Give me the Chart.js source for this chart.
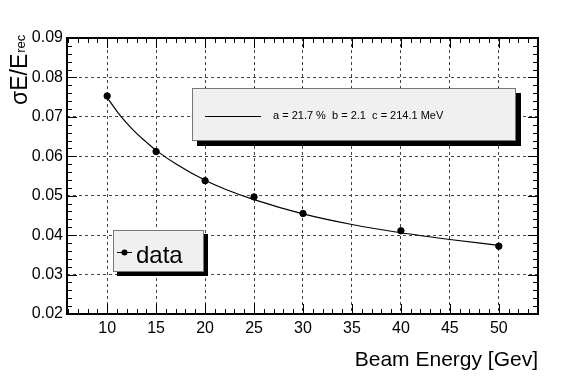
<!DOCTYPE html>
<html>
<head>
<meta charset="utf-8">
<script src="https://cdn.jsdelivr.net/npm/chart.js@4.4.1/dist/chart.umd.min.js"></script>
<style>
  html, body { margin: 0; padding: 0; background: #fff; }
  #wrap { width: 567px; height: 384px; position: relative; }
</style>
</head>
<body>
<div id="wrap"><canvas id="chart"></canvas></div>
<script>
// measured points (beam energy in GeV, sigmaE/E)
const energies = [10, 15, 20, 25, 30, 40, 50];
const resolution = [0.0753, 0.0612, 0.0538, 0.0497, 0.0455, 0.0411, 0.0372];

// fit curve
const fitEnergies = [10, 11, 12, 13, 14, 15, 17, 20, 22, 25, 30, 35, 40, 45, 50];
const fitResolution = [0.0749, 0.0714, 0.0684, 0.0658, 0.0636, 0.0615, 0.0581, 0.0539, 0.0517,
  0.0490, 0.0454, 0.0427, 0.0406, 0.0389, 0.0374];

const fitLabel = 'a = 21.7 %  b = 2.1  c = 214.1 MeV';
const dataLabel = 'data';
const xTitle = 'Beam Energy [Gev]';

const FONT = '"Liberation Sans", Arial, Helvetica, sans-serif';

// frame, inner ticks, titles and the two legend boxes (ROOT style)
const rootStyle = {
  id: 'rootStyle',
  afterDraw(chart) {
    const { ctx, chartArea: a, scales: { x, y } } = chart;
    ctx.save();

    // minor + major ticks on all four sides
    ctx.strokeStyle = '#000';
    ctx.lineWidth = 1;
    ctx.beginPath();
    for (let v = 6; v <= 54; v++) {
      const px = Math.round(x.getPixelForValue(v)) + 0.5;
      const len = v % 5 === 0 ? 10 : 5;
      ctx.moveTo(px, a.bottom); ctx.lineTo(px, a.bottom - len);
      ctx.moveTo(px, a.top); ctx.lineTo(px, a.top + len);
    }
    for (let i = 0; i <= 35; i++) {
      const v = 0.02 + i * 0.002;
      const py = Math.round(y.getPixelForValue(v)) + 0.5;
      const len = i % 5 === 0 ? 10 : 5;
      ctx.moveTo(a.left, py); ctx.lineTo(a.left + len, py);
      ctx.moveTo(a.right, py); ctx.lineTo(a.right - len, py);
    }
    ctx.stroke();

    // frame
    ctx.lineWidth = 2;
    ctx.strokeRect(a.left, a.top, a.right - a.left, a.bottom - a.top);

    // x title
    ctx.fillStyle = '#000';
    ctx.font = '21px ' + FONT;
    ctx.textAlign = 'right';
    ctx.textBaseline = 'alphabetic';
    ctx.fillText(xTitle, a.right, 366);

    // y title: sigmaE/E with subscript rec
    ctx.save();
    ctx.translate(27, 105);
    ctx.rotate(-Math.PI / 2);
    ctx.textAlign = 'left';
    ctx.font = '23px ' + FONT;
    ctx.fillText('\u03C3E/E', 0, 0);
    const w = ctx.measureText('\u03C3E/E').width;
    ctx.font = '13px ' + FONT;
    ctx.fillText('rec', w + 1, -2);
    ctx.restore();

    // fit legend box
    drawBox(ctx, 192, 88, 324, 53, 5);
    ctx.lineWidth = 1;
    ctx.beginPath();
    ctx.moveTo(205, 116.5); ctx.lineTo(261, 116.5);
    ctx.stroke();
    ctx.fillStyle = '#000';
    ctx.font = '11px ' + FONT;
    ctx.textAlign = 'left';
    ctx.textBaseline = 'middle';
    ctx.fillText(fitLabel, 273, 116);

    // data legend box
    drawBox(ctx, 113, 230, 91, 42, 4);
    ctx.beginPath();
    ctx.moveTo(117, 252.5); ctx.lineTo(132, 252.5);
    ctx.stroke();
    ctx.beginPath();
    ctx.arc(124.5, 252.5, 3, 0, Math.PI * 2);
    ctx.fill();
    ctx.font = '24px ' + FONT;
    ctx.textBaseline = 'alphabetic';
    ctx.fillText(dataLabel, 136, 263);

    ctx.restore();
  }
};

function drawBox(ctx, bx, by, bw, bh, shadow) {
  ctx.fillStyle = '#000';
  ctx.fillRect(bx + shadow, by + shadow, bw, bh);
  ctx.fillStyle = '#f0f0f0';
  ctx.fillRect(bx, by, bw, bh);
  ctx.strokeStyle = '#777';
  ctx.lineWidth = 1;
  ctx.strokeRect(bx + 0.5, by + 0.5, bw - 1, bh - 1);
  ctx.strokeStyle = '#000';
  ctx.fillStyle = '#000';
}

const ctx = document.getElementById('chart').getContext('2d');
new Chart(ctx, {
  type: 'scatter',
  data: {
    datasets: [{
      label: 'fit',
      data: fitEnergies.map((e, i) => ({ x: e, y: fitResolution[i] })),
      showLine: true,
      borderColor: '#000',
      borderWidth: 1.2,
      pointRadius: 0,
      cubicInterpolationMode: 'monotone',
      fill: false
    }, {
      label: dataLabel,
      data: energies.map((e, i) => ({ x: e, y: resolution[i] })),
      showLine: false,
      backgroundColor: '#000',
      borderColor: '#000',
      pointRadius: 3.2,
      pointHoverRadius: 3.2
    }]
  },
  options: {
    responsive: true,
    maintainAspectRatio: false,
    animation: false,
    events: [],
    layout: { padding: { top: 38, right: 29, left: 0, bottom: 0 } },
    plugins: {
      legend: { display: false },
      tooltip: { enabled: false }
    },
    scales: {
      x: {
        type: 'linear',
        min: 5.9,
        max: 54,
        afterFit: s => { s.height = 70; },
        ticks: {
          stepSize: 5,
          includeBounds: false,
          color: '#000',
          padding: 5,
          font: { size: 16, family: FONT }
        },
        grid: { color: '#444', drawTicks: false, lineWidth: 1 },
        border: { display: false, dash: [3, 3] }
      },
      y: {
        type: 'linear',
        min: 0.02,
        max: 0.09,
        afterFit: s => { s.width = 67; },
        ticks: {
          stepSize: 0.01,
          color: '#000',
          padding: 4,
          font: { size: 16, family: FONT },
          callback: v => v.toFixed(2)
        },
        grid: { color: '#444', drawTicks: false, lineWidth: 1 },
        border: { display: false, dash: [3, 3] }
      }
    }
  },
  plugins: [rootStyle]
});
</script>
</body>
</html>
